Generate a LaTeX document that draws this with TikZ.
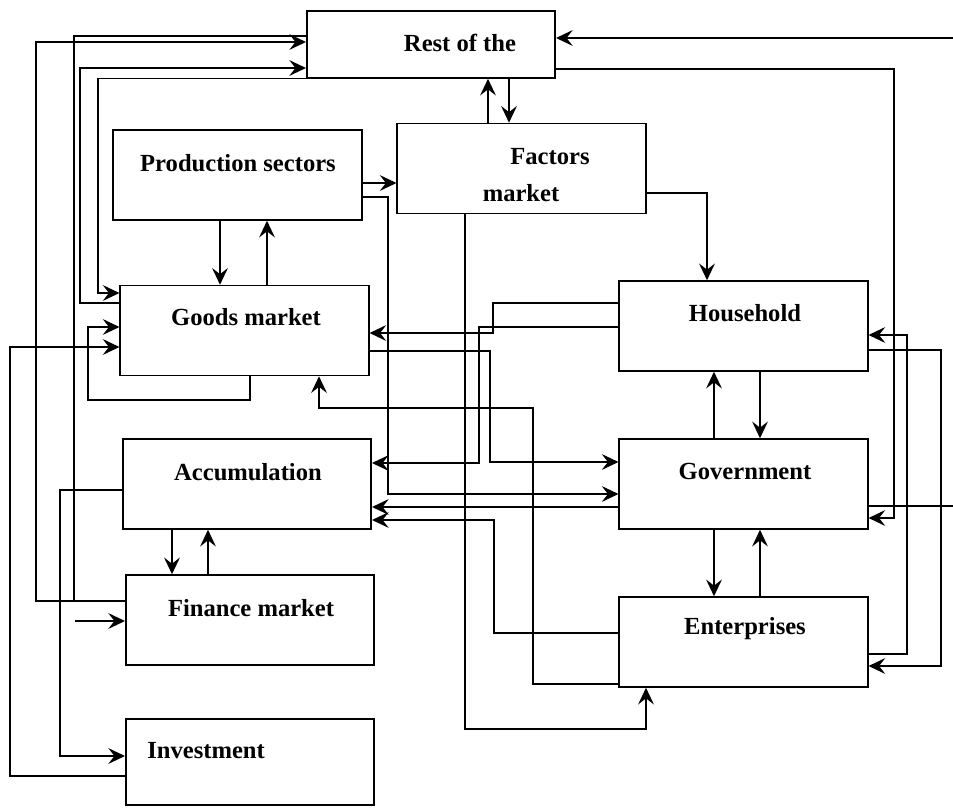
\documentclass[tikz,border=0pt]{standalone}
\usepackage{fontspec}
\setmainfont{Liberation Serif}
\usetikzlibrary{arrows.meta}

\begin{document}
\begin{tikzpicture}[x=0.02cm, y=-0.02cm,
    sector/.style={draw, line width=0.9pt, inner sep=0pt, minimum width=4.97cm, minimum height=1.8cm},
    lbl/.style={font=\fontsize{14}{16}\selectfont\bfseries, inner sep=0pt},
    flow/.style={line width=0.75pt},
    >={Stealth[length=9.5pt,width=9pt,inset=3.5pt]}]
    \useasboundingbox (0,0) rectangle (953,808);

    % Boxes
    \node[sector, minimum height=1.34cm] (rest) at (431,44.5) {};
    \node[sector] (prod) at (237.5,175) {};
    \node[sector] (factors) at (521.5,168.5) {};
    \node[sector] (goods) at (244.5,330.5) {};
    \node[sector] (accum) at (247,484) {};
    \node[sector] (finance) at (250,620) {};
    \node[sector, minimum height=1.72cm] (invest) at (250,762) {};
    \node[sector] (house) at (743.5,326) {};
    \node[sector] (gov) at (743.5,484) {};
    \node[sector] (ent) at (743.5,642) {};

    % Labels
    \node[lbl] (restT) at (460,43) {Rest of the};
    \node[lbl] (prodT) at (238,163) {Production sectors};
    \node[lbl] (factorsT) at (550,157) {Factors};
    \node[lbl] (factorsM) at (521,193) {market};
    \node[lbl] (goodsT) at (246,317) {Goods market};
    \node[lbl] (accumT) at (248,472) {Accumulation};
    \node[lbl] (financeT) at (251,608) {Finance market};
    \node[lbl, anchor=west] (investT) at (147,751) {Investment};
    \node[lbl] (houseT) at (745,313) {Household};
    \node[lbl] (govT) at (745,471) {Government};
    \node[lbl] (entT) at (745,629) {Enterprises};

    % Free ends
    \coordinate (finIn) at (75,621);
    \coordinate (edgeLow) at (953,506);
    \coordinate (edgeTop) at (953,38);

    % Left side loops
    \draw[flow,->] (finance.west |- 0,601) -| (36,42) -- (rest.west |- 0,42);
    \draw[flow] (finance.west |- 0,601) -| (74,36) -- (rest.west |- 0,36);
    \draw[flow,->] (goods.west |- 0,303) -| (80,68) -- (rest.west |- 0,68);
    \draw[flow,->] (rest.south west) -| (98,293) -- (goods.west |- 0,293);
    \draw[flow,->] (250,0 |- goods.south) |- (88,400) |- (goods.west |- 0,327);
    \draw[flow,->] (invest.west |- 0,776) -| (10,347) -- (goods.west |- 0,347);
    \draw[flow,->] (accum.west |- 0,490) -| (60,756) -- (invest.west |- 0,756);
    \draw[flow,->] (finIn) -- (finance.west |- finIn);

    % Vertical pairs
    \draw[flow,->] (220,0 |- prod.south) -- (220,0 |- goods.north);
    \draw[flow,->] (267,0 |- goods.north) -- (267,0 |- prod.south);
    \draw[flow,->] (488,0 |- factors.north) -- (488,0 |- rest.south);
    \draw[flow,->] (509,0 |- rest.south) -- (509,0 |- factors.north);
    \draw[flow,->] (172,0 |- accum.south) -- (172,0 |- finance.north);
    \draw[flow,->] (208,0 |- finance.north) -- (208,0 |- accum.south);
    \draw[flow,->] (714,0 |- gov.north) -- (714,0 |- house.south);
    \draw[flow,->] (760,0 |- house.south) -- (760,0 |- gov.north);
    \draw[flow,->] (714,0 |- gov.south) -- (714,0 |- ent.north);
    \draw[flow,->] (760,0 |- ent.north) -- (760,0 |- gov.south);

    % Middle
    \draw[flow,->] (prod.east |- 0,183) -- (factors.west |- 0,183);
    \draw[flow,->] (prod.east |- 0,197) -| (388,494) -- (gov.west |- 0,494);
    \draw[flow,->] (factors.east |- 0,193) -| (707,0 |- house.north);
    \draw[flow,->] (465,0 |- factors.south) |- (646,729) -- (646,0 |- ent.south);
    \draw[flow,->] (house.west |- 0,303) -| (493,333) -- (goods.east |- 0,333);
    \draw[flow,->] (house.west |- 0,327) -| (479,463) -- (accum.east |- 0,463);
    \draw[flow,->] (goods.east |- 0,351) -| (490,462) -- (gov.west |- 0,462);
    \draw[flow,->] (ent.west |- 0,684) -| (533,408) -| (319,0 |- goods.south);
    \draw[flow,->] (gov.west |- 0,507) -- (accum.east |- 0,507);
    \draw[flow,->] (ent.west |- 0,633) -| (494,520) -- (accum.east |- 0,520);

    % Right side
    \draw[flow,->] (ent.east |- 0,654) -| (907,335) -- (house.east |- 0,335);
    \draw[flow,->] (house.east |- 0,350) -| (941,666) -- (ent.east |- 0,666);
    \draw[flow,->] (rest.east |- 0,69) -| (894,518) -- (gov.east |- 0,518);
    \draw[flow] (gov.east |- edgeLow) -- (edgeLow);
    \draw[flow,->] (edgeTop) -- (rest.east |- edgeTop);
\end{tikzpicture}
\end{document}
